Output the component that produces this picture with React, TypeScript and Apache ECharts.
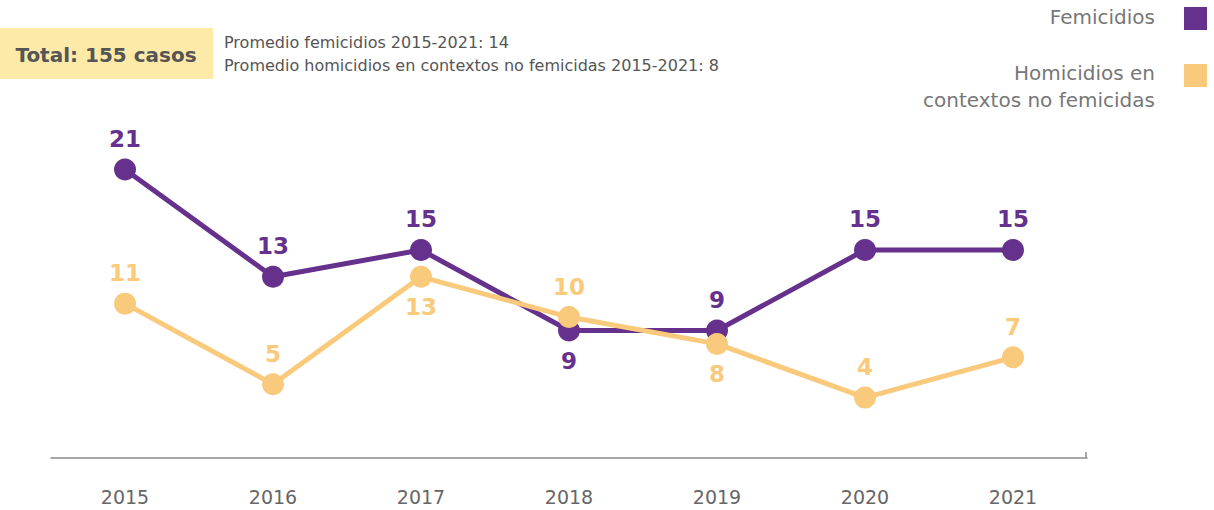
import React, { useEffect, useRef } from "react";
import * as echarts from "echarts";

const years = ["2015", "2016", "2017", "2018", "2019", "2020", "2021"];
const femicidios = [21, 13, 15, 9, 9, 15, 15];
const homicidios = [11, 5, 13, 10, 8, 4, 7];
const femLabelPos = ["top", "top", "top", "bottom", "top", "top", "top"];
const homLabelPos = ["top", "top", "bottom", "top", "bottom", "top", "top"];

const PURPLE = "#65318c";
const ORANGE = "#f9c97c";
const FONT = "'DejaVu Sans', sans-serif";

export default function App() {
  const ref = useRef<HTMLDivElement>(null);
  useEffect(() => {
    if (!ref.current) return;
    const chart = echarts.init(ref.current, undefined, { renderer: "svg" });
    const mk = (vals: number[], pos: string[]) =>
      vals.map((v, i) => ({ value: v, label: { position: pos[i] } }));
    chart.setOption({
      animation: false,
      backgroundColor: "#ffffff",
      grid: { left: 51, right: 127, top: 156, bottom: 52 },
      xAxis: {
        type: "category",
        data: years,
        boundaryGap: true,
        axisLine: { show: true, onZero: false, lineStyle: { color: "#8a8a8a", width: 1.5 } },
        axisTick: { show: false },
        axisLabel: { color: "#666666", fontSize: 19, margin: 29, fontFamily: FONT },
      },
      yAxis: {
        type: "value",
        min: -0.5,
        max: 22,
        show: false,
        splitLine: { show: false },
      },
      series: [
        {
          name: "Femicidios",
          type: "line",
          data: mk(femicidios, femLabelPos),
          symbol: "circle",
          symbolSize: 22,
          lineStyle: { color: PURPLE, width: 5 },
          itemStyle: { color: PURPLE },
          label: {
            show: true,
            distance: 8,
            color: PURPLE,
            fontSize: 23,
            fontWeight: "bold",
            fontFamily: FONT,
          },
          z: 2,
        },
        {
          name: "Homicidios en contextos no femicidas",
          type: "line",
          data: mk(homicidios, homLabelPos),
          symbol: "circle",
          symbolSize: 22,
          lineStyle: { color: ORANGE, width: 5 },
          itemStyle: { color: ORANGE },
          label: {
            show: true,
            distance: 8,
            color: ORANGE,
            fontSize: 23,
            fontWeight: "bold",
            fontFamily: FONT,
          },
          z: 3,
        },
      ],
      graphic: [
        {
          type: "rect",
          shape: { x: 0, y: 28, width: 213, height: 51 },
          style: { fill: "#fde9a8" },
        },
        {
          type: "text",
          x: 106,
          y: 55,
          style: {
            text: "Total: 155 casos",
            fill: "#555555",
            font: `bold 20px ${FONT}`,
            align: "center",
            verticalAlign: "middle",
          },
        },
        {
          type: "text",
          x: 224,
          y: 42,
          style: {
            text: "Promedio femicidios 2015-2021: 14",
            fill: "#555555",
            font: `16px ${FONT}`,
            verticalAlign: "middle",
          },
        },
        {
          type: "text",
          x: 224,
          y: 65,
          style: {
            text: "Promedio homicidios en contextos no femicidas 2015-2021: 8",
            fill: "#555555",
            font: `16px ${FONT}`,
            verticalAlign: "middle",
          },
        },
        {
          type: "text",
          x: 1155,
          y: 17,
          style: {
            text: "Femicidios",
            fill: "#777777",
            font: `20px ${FONT}`,
            align: "right",
            verticalAlign: "middle",
          },
        },
        {
          type: "rect",
          shape: { x: 1184, y: 7, width: 23, height: 23 },
          style: { fill: PURPLE },
        },
        {
          type: "text",
          x: 1155,
          y: 73,
          style: {
            text: "Homicidios en",
            fill: "#777777",
            font: `20px ${FONT}`,
            align: "right",
            verticalAlign: "middle",
          },
        },
        {
          type: "text",
          x: 1155,
          y: 100,
          style: {
            text: "contextos no femicidas",
            fill: "#777777",
            font: `20px ${FONT}`,
            align: "right",
            verticalAlign: "middle",
          },
        },
        {
          type: "rect",
          shape: { x: 1184, y: 64, width: 23, height: 23 },
          style: { fill: ORANGE },
        },
        {
          type: "line",
          shape: { x1: 1086, y1: 452, x2: 1086, y2: 458 },
          style: { stroke: "#8a8a8a", lineWidth: 1.5 },
        },
      ],
    });
    return () => chart.dispose();
  }, []);
  return (
    <div
      ref={ref}
      style={{ position: "fixed", left: 0, top: 0, width: 1214, height: 510, background: "#fff" }}
    />
  );
}
